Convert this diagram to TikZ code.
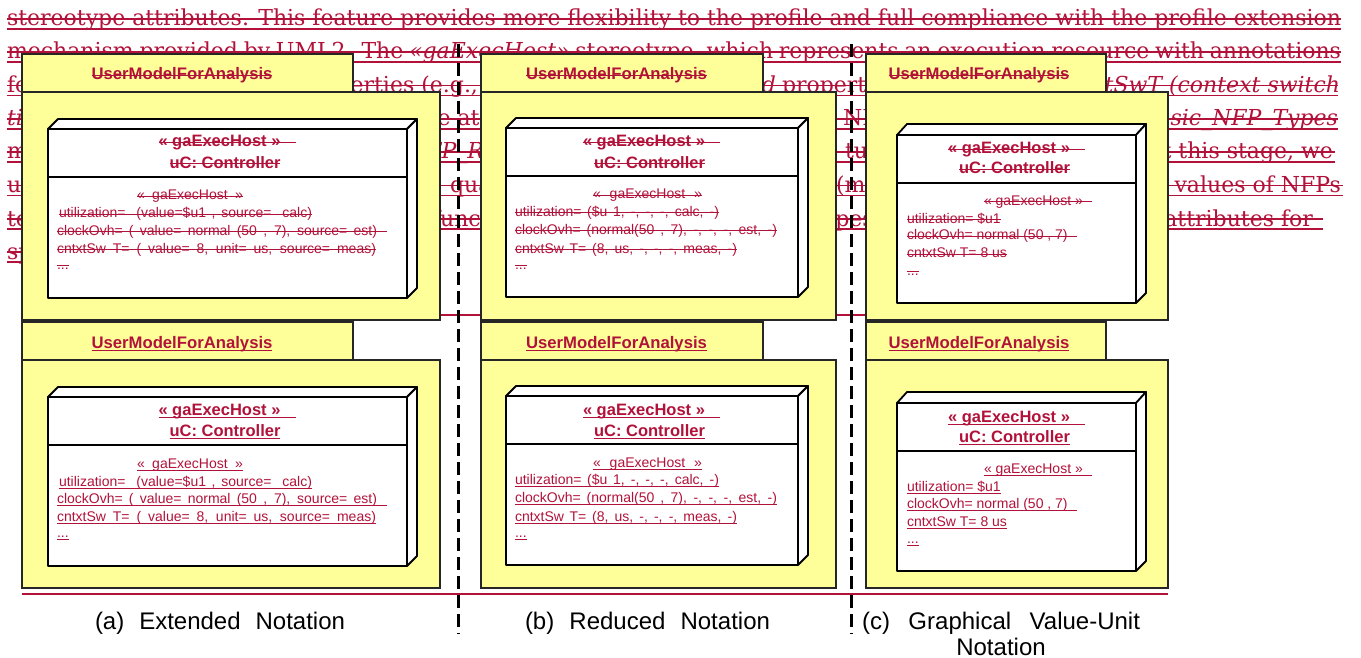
\documentclass[tikz,border=0pt]{standalone}
\usepackage{fontspec}
\setmainfont{Liberation Sans}
\newfontfamily\parafont{DejaVu Serif}
\definecolor{txtred}{RGB}{178,18,58}
\definecolor{pkgyellow}{RGB}{255,255,153}
\tikzset{
 every node/.style={inner sep=0pt, outer sep=0pt},
 dtxt/.style={text=txtred},
 ptxt/.style={text=txtred, font=\parafont\fontsize{22}{26}\selectfont},
 paraln/.style={draw=txtred, line width=1.8pt},
 decoln/.style={draw=txtred, line width=1.1pt},
 strk/.style={append after command={([yshift=#1]\tikzlastnode.base west) edge[decoln] ([yshift=#1]\tikzlastnode.base east)}},
 ulin/.style={append after command={([yshift=-2.5pt]\tikzlastnode.base west) edge[decoln] ([yshift=-2.5pt]\tikzlastnode.base east)}},
 pkg/.style={draw=black!85, line width=1.3pt, fill=pkgyellow},
 boxln/.style={draw=black, line width=1.8pt, fill=white, line join=round},
 sepln/.style={draw=black, line width=1.8pt},
 divider/.style={draw=black, line width=3pt, dash pattern=on 13pt off 6pt},
 redrule/.style={draw=txtred, line width=2.5pt},
 lbl/.style={dtxt, font=\fontsize{16.7}{20}\selectfont\bfseries, anchor=base},
 hdr/.style={dtxt, font=\fontsize{16.5}{20}\selectfont\bfseries, anchor=base},
 cmp/.style={dtxt, font=\fontsize{14}{17}\selectfont, anchor=base west},
 captxt/.style={text=black, font=\fontsize{24}{28}\selectfont, anchor=base},
}
\newcommand\colA[2]{%
 \draw[pkg] (22,322) rectangle (353,360);
 \draw[pkg] (22,360) rectangle (440,588);
 \node[lbl,#2=4.5pt] (#1Alabel) at (182,348) {UserModelForAnalysis};
 \draw[boxln] (48,397) -- (58,387) -- (417,387) -- (407,397) -- cycle;
 \draw[boxln] (407,397) -- (417,387) -- (417,556) -- (407,566) -- cycle;
 \draw[boxln] (48,397) rectangle (407,566);
 \draw[sepln] (48,445) -- (407,445);
 \node[hdr,#2=4.5pt] (#1Ahdr) at (227,415) {\makebox[137pt][l]{« gaExecHost »}};
 \node[hdr,#2=4.5pt] (#1Aname) at (225,436) {uC:\ Controller};
 \node[cmp,#2=3.8pt] (#1Ac0) at (137,468) {\makebox[106pt][s]{«\ \ gaExecHost\ \ »}};
 \node[cmp,#2=3.8pt] (#1Ac1) at (59,486) {\makebox[253pt][s]{utilization=\ \ (value=\$u1 , source=\ \ calc)}};
 \node[cmp,#2=3.8pt] (#1Ac2) at (57,503) {\makebox[330pt][l]{\makebox[320pt][s]{clockOvh= ( value= normal (50 , 7), source= est)}}};
 \node[cmp,#2=3.8pt] (#1Ac3) at (57,521) {\makebox[319pt][s]{cntxtSw T= ( value= 8, unit= us, source= meas)}};
 \node[cmp,#2=3.8pt] (#1Ac4) at (57,537) {...};
}
\newcommand\colB[2]{%
 \draw[pkg] (481,322) rectangle (763,360);
 \draw[pkg] (481,360) rectangle (836,588);
 \node[lbl,#2=4.5pt] (#1Blabel) at (616.5,348) {UserModelForAnalysis};
 \draw[boxln] (506,396) -- (516,386) -- (808,386) -- (798,396) -- cycle;
 \draw[boxln] (798,396) -- (808,386) -- (808,555) -- (798,565) -- cycle;
 \draw[boxln] (506,396) rectangle (798,565);
 \draw[sepln] (506,444) -- (798,444);
 \node[hdr,#2=4.5pt] (#1Bhdr) at (651.5,415) {\makebox[137pt][l]{« gaExecHost »}};
 \node[hdr,#2=4.5pt] (#1Bname) at (649.5,436) {uC:\ Controller};
 \node[cmp,#2=3.8pt] (#1Bc0) at (593,467) {\makebox[109pt][s]{«\ \ gaExecHost\ \ »}};
 \node[cmp,#2=3.8pt] (#1Bc1) at (515,484) {\makebox[204pt][s]{utilization= (\$u 1, -, -, -, calc, -)}};
 \node[cmp,#2=3.8pt] (#1Bc2) at (515,502) {\makebox[262pt][s]{clockOvh= (normal(50 , 7), -, -, -, est, -)}};
 \node[cmp,#2=3.8pt] (#1Bc3) at (515,521) {\makebox[222pt][s]{cntxtSw T= (8, us, -, -, -, meas, -)}};
 \node[cmp,#2=3.8pt] (#1Bc4) at (515,537) {...};
}
\newcommand\colC[2]{%
 \draw[pkg] (866,322) rectangle (1106,360);
 \draw[pkg] (866,360) rectangle (1168,588);
 \node[lbl,#2=4.5pt] (#1Clabel) at (979,348) {UserModelForAnalysis};
 \draw[boxln] (897,403) -- (907,392) -- (1146,392) -- (1136,403) -- cycle;
 \draw[boxln] (1136,403) -- (1146,392) -- (1146,561) -- (1136,571) -- cycle;
 \draw[boxln] (897,403) rectangle (1136,571);
 \draw[sepln] (897,451) -- (1136,451);
 \node[hdr,#2=4.5pt] (#1Chdr) at (1016.5,422) {\makebox[137pt][l]{« gaExecHost »}};
 \node[hdr,#2=4.5pt] (#1Cname) at (1014.5,442) {uC:\ Controller};
 \node[cmp,#2=3.8pt] (#1Cc0) at (984,473) {\makebox[108pt][l]{« gaExecHost »}};
 \node[cmp,#2=3.8pt] (#1Cc1) at (907,491) {utilization= \$u1};
 \node[cmp,#2=3.8pt] (#1Cc2) at (907,508) {\makebox[170pt][l]{clockOvh= normal (50 , 7)}};
 \node[cmp,#2=3.8pt] (#1Cc3) at (907,526) {cntxtSw T= 8 us};
 \node[cmp,#2=3.8pt] (#1Cc4) at (907,543) {...};
}
\begin{document}
\begin{tikzpicture}[x=1pt,y=-1pt]
\useasboundingbox (0,0) rectangle (1361,658);
\fill[white] (0,0) rectangle (1361,658);
% struck-through paragraph behind the figure
\foreach \b/\e in {26/1341,59/1341,92.5/1338,126/1338,159/1335,192.5/1343,226/1323,259/300}{
  \draw[paraln] (7,\b-7) -- (\e,\b-7);
  \draw[paraln] (7,\b+3) -- (\e,\b+3);
}
\node[ptxt, anchor=base west] (p1) at (7,26) {\makebox[1334pt][s]{stereotype attributes. This feature provides more flexibility to the profile and full compliance with the profile extension}};
\node[ptxt, anchor=base west] (p2) at (7,59) {\makebox[1334pt][s]{mechanism provided by UML2. The \textit{«gaExecHost»} stereotype, which represents an execution resource with annotations}};
\node[ptxt, anchor=base west] (p3a) at (7,92.5) {for};
\node[ptxt, anchor=base east] (p3b) at (478,92.5) {properties (e.g.,};
\node[ptxt, anchor=base east] (p3c) at (776,92.5) {\textit{defined}};
\node[ptxt, anchor=base west] (p3d) at (782,92.5) {properties};
\node[ptxt, anchor=base east] (p3e) at (1340,92.5) {\textit{cntxtSwT (context switch}};
\node[ptxt, anchor=base west] (p4a) at (7,126) {\textit{time)}};
\node[ptxt, anchor=base west] (p4b) at (414,126) {are attributes};
\node[ptxt, anchor=base west] (p4c) at (843,126) {NFP};
\node[ptxt, anchor=base east] (p4d) at (1338,126) {\textit{Basic\_NFP\_Types}};
\node[ptxt, anchor=base west] (p5a) at (7,159) {model};
\node[ptxt, anchor=base west] (p5b) at (407,159) {\textit{NFP\_Real}};
\node[ptxt, anchor=base west] (p5c) at (845,159) {tuple};
\node[ptxt, anchor=base east] (p5d) at (1333,159) {At this stage, we};
\node[ptxt, anchor=base west] (p6a) at (7,192.5) {use};
\node[ptxt, anchor=base west] (p6b) at (450,192.5) {quantitative};
\node[ptxt, anchor=base west] (p6c) at (836,192.5) {(mean};
\node[ptxt, anchor=base east] (p6d) at (1341,192.5) {values of NFPs};
\node[ptxt, anchor=base west] (p7a) at (7,226) {text};
\node[ptxt, anchor=base west] (p7b) at (432,226) {functions};
\node[ptxt, anchor=base west] (p7c) at (814,226) {types};
\node[ptxt, anchor=base east] (p7d) at (1313,226) {attributes for};
\node[ptxt, anchor=base west] (p8a) at (7,259) {spec};
% red rules
\draw[redrule] (22,315) -- (1168,315);
\draw[redrule] (22,594) -- (1168,594);
% upper (deleted) panels
\begin{scope}[yshift=268pt]
 \colA{t}{strk}
 \colB{t}{strk}
 \colC{t}{strk}
\end{scope}
% lower (inserted) panels
\colA{b}{ulin}
\colB{b}{ulin}
\colC{b}{ulin}
% dashed dividers
\draw[divider] (458,44) -- (458,634);
\draw[divider] (851,44) -- (851,634);
% captions
\node[captxt] (capA) at (220,629) {\makebox[250pt][s]{(a) Extended Notation}};
\node[captxt] (capB) at (647.5,629) {\makebox[245pt][s]{(b) Reduced Notation}};
\node[captxt] (capC) at (1001,629) {\makebox[278pt][s]{(c) Graphical Value-Unit}};
\node[captxt] (capC2) at (1001,655) {Notation};
\end{tikzpicture}
\end{document}
